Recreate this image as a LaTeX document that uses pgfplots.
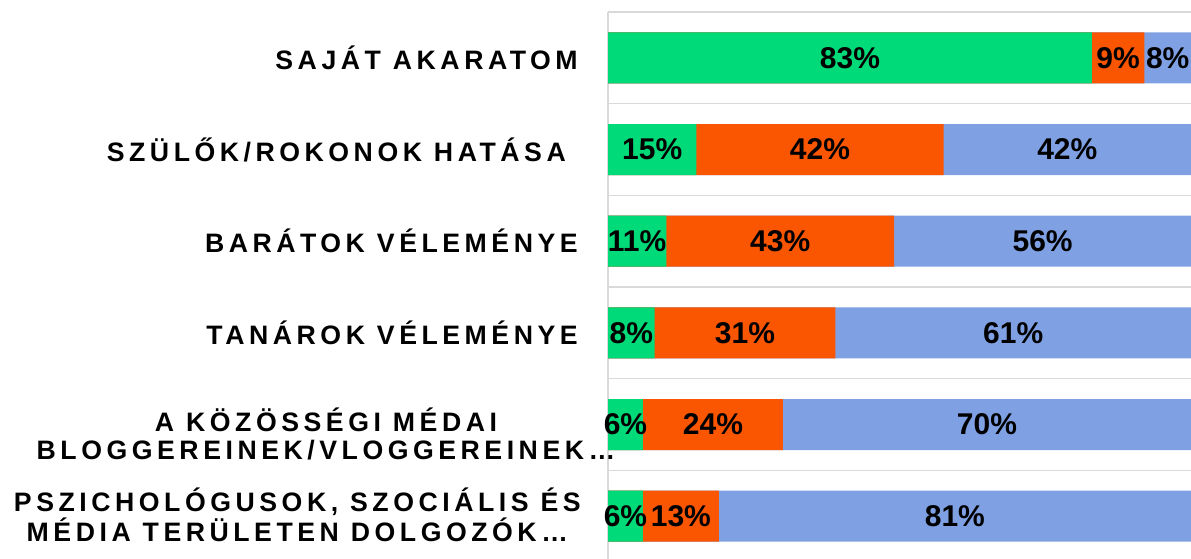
\documentclass[border=0pt]{standalone}
\usepackage{pgfplots}
\pgfplotsset{compat=1.18}
\usepackage{pgfplotstable}
\usepackage{fontspec}
\setmainfont{Liberation Sans}
\newfontfamily\catfont[LetterSpace=17]{Liberation Sans}

\definecolor{cgreen}{RGB}{0,218,120}
\definecolor{corange}{RGB}{250,85,0}
\definecolor{cblue}{RGB}{127,161,228}
\definecolor{cgrid}{RGB}{217,217,217}

% raw answer counts in percent, one row per category (top to bottom)
\pgfplotstableread{
y g o b
0 83 9 8
1 15 42 42
2 11 43 56
3 8 31 61
4 6 24 70
5 6 13 81
}\data

\tikzset{cat/.style={inner sep=0pt, align=center, font=\catfont\bfseries\fontsize{20}{20.6}\selectfont}}

\begin{document}
\begin{tikzpicture}
\clip (0,0) rectangle (893.25pt,-418.5pt);
\begin{axis}[
  at={(456pt,-9pt)}, anchor=north west,
  scale only axis, width=437.25pt, height=412.5pt,
  xmin=0, xmax=100, ymin=-0.5, ymax=5.5, y dir=reverse,
  axis x line=none, axis y line*=left,
  axis line style={cgrid, line width=1.1pt},
  xtick=\empty, ytick={-0.5,0.5,...,5.5}, yticklabels={},
  major tick length=0pt,
  ymajorgrids, major grid style={cgrid, line width=1.2pt},
  clip=false,
  bar width=38.25pt,
  lab/.style={draw=none, mark=none, nodes near coords={\pgfplotspointmeta\%},
    point meta=explicit symbolic,
    every node near coord/.style={anchor=center, inner sep=0pt, text=black,
      font=\bfseries\fontsize{22.5}{22.5}\selectfont}},
]
\addplot[xbar, bar shift=0pt, fill=cblue, draw=none]
  table[y=y, x expr={(\thisrow{g}+\thisrow{o}+\thisrow{b})/(\thisrow{g}+\thisrow{o}+\thisrow{b})*100}]{\data};
\addplot[xbar, bar shift=0pt, fill=corange, draw=none]
  table[y=y, x expr={(\thisrow{g}+\thisrow{o})/(\thisrow{g}+\thisrow{o}+\thisrow{b})*100}]{\data};
\addplot[xbar, bar shift=0pt, fill=cgreen, draw=none]
  table[y=y, x expr={\thisrow{g}/(\thisrow{g}+\thisrow{o}+\thisrow{b})*100}]{\data};

\addplot[lab] table[y=y, meta=g, x expr={\thisrow{g}/2/(\thisrow{g}+\thisrow{o}+\thisrow{b})*100}]{\data};
\addplot[lab] table[y=y, meta=o, x expr={(\thisrow{g}+\thisrow{o}/2)/(\thisrow{g}+\thisrow{o}+\thisrow{b})*100}]{\data};
\addplot[lab] table[y=y, meta=b, x expr={(\thisrow{g}+\thisrow{o}+\thisrow{b}/2)/(\thisrow{g}+\thisrow{o}+\thisrow{b})*100}]{\data};

\node[cat, anchor=east, xshift=-22.5pt] at (axis cs:0,0) {SAJÁT AKARATOM};
\node[cat, anchor=east, xshift=-22.5pt] at (axis cs:0,1) {SZÜLŐK/ROKONOK HATÁSA };
\node[cat, anchor=east, xshift=-22.5pt] at (axis cs:0,2) {BARÁTOK VÉLEMÉNYE};
\node[cat, anchor=east, xshift=-22.5pt] at (axis cs:0,3) {TANÁROK VÉLEMÉNYE};
\node[cat, anchor=center, xshift=-211.5pt, yshift=-7pt] at (axis cs:0,4) {A KÖZÖSSÉGI MÉDAI\\BLOGGEREINEK/VLOGGEREINEK…};
\node[cat, anchor=center, xshift=-233pt, yshift=1pt] at (axis cs:0,5) {PSZICHOLÓGUSOK, SZOCIÁLIS ÉS\\MÉDIA TERÜLETEN DOLGOZÓK…};
\end{axis}
\end{tikzpicture}
\end{document}
